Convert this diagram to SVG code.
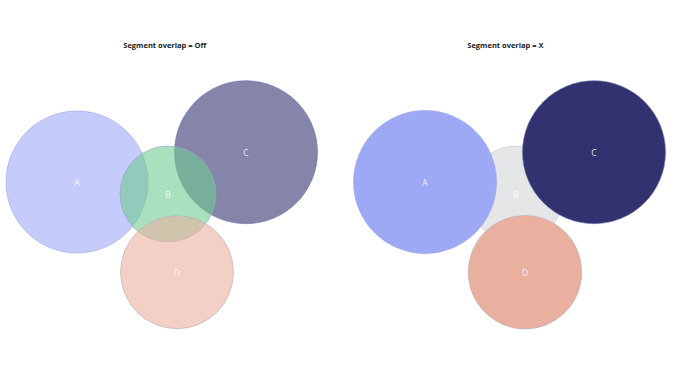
<svg xmlns="http://www.w3.org/2000/svg" width="688" height="366" viewBox="0 0 688 366">
<style>
.title{font-family:"Open Sans","Liberation Sans",sans-serif;font-weight:bold;font-size:7.5px;fill:#222;}
.lbl{font-family:"Open Sans","Liberation Sans",sans-serif;font-size:8.5px;fill:#ffffff;fill-opacity:0.85;text-anchor:middle;dominant-baseline:central;}
.a{fill:#9ea9f6;stroke:#9aa3e8;stroke-width:0.6;}
.b{fill:#6fcc92;stroke:#9aa3c8;stroke-width:0.6;}
.bg{fill:#e5e6e8;stroke:#c3cad8;stroke-width:0.6;}
.c{fill:#333270;stroke:#6f73b0;stroke-width:0.6;}
.d{fill:#eab09f;stroke:#b5aebd;stroke-width:0.6;}
.t{fill-opacity:0.6;}
</style>
<rect width="688" height="366" fill="#ffffff"/>
<text class="title" x="123.3" y="47.5">Segment overlap = Off</text>
<text class="title" x="467.3" y="47.5">Segment overlap = X</text>
<g id="left">
<g id="nodeA1"><circle class="a t" cx="77" cy="182" r="71"/><text class="lbl" x="77" y="182">A</text></g>
<g id="nodeC1"><circle class="c t" cx="246" cy="152.2" r="71.5"/><text class="lbl" x="246" y="152.5">C</text></g>
<g id="nodeB1"><circle class="b t" cx="168" cy="194" r="48"/><text class="lbl" x="168" y="194">B</text></g>
<g id="nodeD1"><circle class="d t" cx="177" cy="272.2" r="56.5"/><text class="lbl" x="177" y="272.5">D</text></g>
</g>
<g id="right">
<g id="nodeB2"><circle class="bg" cx="516" cy="194" r="48"/><text class="lbl" x="516" y="194">B</text></g>
<g id="nodeA2"><circle class="a" cx="425" cy="182" r="71.5"/><text class="lbl" x="425" y="182">A</text></g>
<g id="nodeC2"><circle class="c" cx="594" cy="152.2" r="71.5"/><text class="lbl" x="594" y="152.5">C</text></g>
<g id="nodeD2"><circle class="d" cx="525" cy="272.2" r="56.8"/><text class="lbl" x="525" y="272.5">D</text></g>
</g>
<g id="connectors"/>
</svg>
